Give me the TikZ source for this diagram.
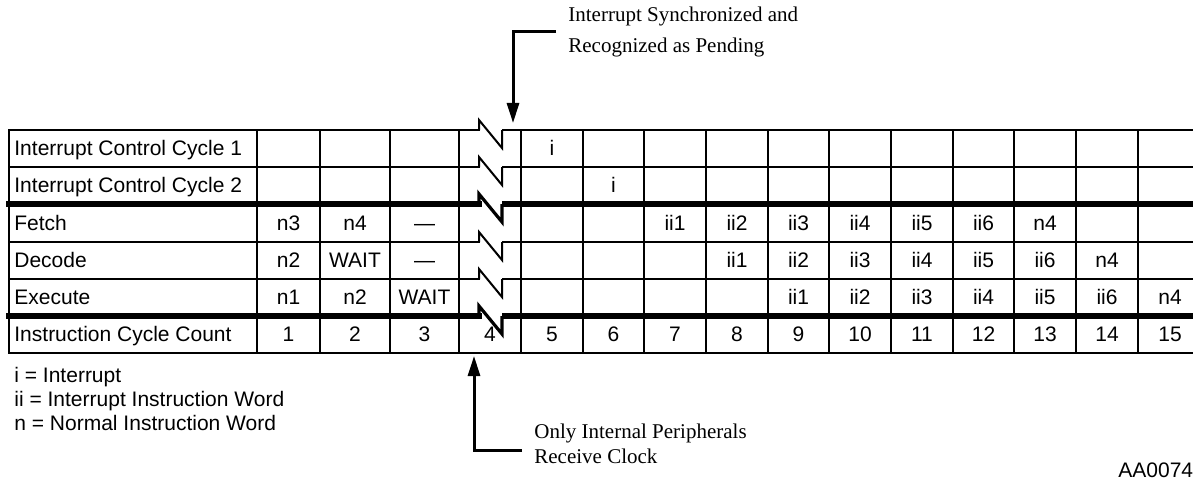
\documentclass[tikz,border=0pt]{standalone}
\usepackage{fontspec}
\setmainfont{Liberation Sans}
\newfontfamily\notefont{Liberation Serif}
\usetikzlibrary{arrows.meta,positioning,calc}

\begin{document}
\begin{tikzpicture}[
  x=0.5pt,y=-0.5pt,
  grid/.style={line width=1.2pt,line cap=rect},
  cell/.style={inner sep=0pt,text height=0.72em,text depth=0pt,font=\fontsize{10.5}{12}\selectfont},
  rowlabel/.style={cell,anchor=west},
  legend/.style={inner sep=0pt,anchor=base west,font=\fontsize{10.5}{12}\selectfont},
  note/.style={inner xsep=6pt,inner ysep=0pt,anchor=west,align=left,font=\notefont\fontsize{10.5}{13.5}\selectfont},
  arr/.style={-{Triangle[length=10pt,width=6pt]},line width=1.5pt}
]
\useasboundingbox (0,0) rectangle (1193,481);

% column centres and row centres
\foreach \x [count=\n] in {288.5,355,424.5,490,552,613.5,675,737,798.5,860,922,983.5,1045,1107,1170}
  \coordinate (c\n) at (\x,0);
\foreach \y [count=\n] in {148.5,185.5,223,260.5,297.5,334.5}
  \coordinate (r\n) at (0,\y);

% rules, broken in column 4
\foreach \y/\w/\z in {130/1.2pt/1pt,167/1.2pt/1pt,204/2.6pt/1.6pt,242/1.2pt/1pt,279/1.2pt/1pt,316/2.6pt/1.6pt} {
  \draw[grid,line width=\w] (9,\y) -- (479,\y);
  \draw[grid,line width=\w,line cap=butt] (502,\y) -- (1193,\y);
  \draw[line width=\z] (479,\y) -- (479,\y-10) -- (502,\y+18) -- (502,\y);
}
\draw[grid] (9,353) -- (1193,353);
\foreach \x in {9,257,320,390,459,521,583,644,706,768,829,891,953,1014,1076,1138}
  \draw[grid] (\x,130) -- (\x,353);

% row labels
\node[rowlabel] (icc1)  at (14,148.5) {Interrupt Control Cycle 1};
\node[rowlabel] (icc2)  at (14,185.5) {Interrupt Control Cycle 2};
\node[rowlabel] (fetch) at (14,223)   {Fetch};
\node[rowlabel] (dec)   at (14,260.5) {Decode};
\node[rowlabel] (exec)  at (14,297.5) {Execute};
\node[rowlabel] (count) at (14,334.5) {Instruction Cycle Count};

% table entries
\node[cell] (icc1-5) at (c5 |- r1) {i};
\node[cell] (icc2-6) at (c6 |- r2) {i};
\foreach \c/\t in {1/n3,2/n4,3/---,7/ii1,8/ii2,9/ii3,10/ii4,11/ii5,12/ii6,13/n4}
  \node[cell] (fetch-\c) at (c\c |- r3) {\t};
\foreach \c/\t in {1/n2,2/WAIT,3/---,8/ii1,9/ii2,10/ii3,11/ii4,12/ii5,13/ii6,14/n4}
  \node[cell] (dec-\c) at (c\c |- r4) {\t};
\foreach \c/\t in {1/n1,2/n2,3/WAIT,9/ii1,10/ii2,11/ii3,12/ii4,13/ii5,14/ii6,15/n4}
  \node[cell] (exec-\c) at (c\c |- r5) {\t};
\foreach \c in {1,...,15}
  \node[cell] (count-\c) at (c\c |- r6) {\c};

% callouts
\node[note,font=\notefont\fontsize{10.5}{15.5}\selectfont] (sync) at (556,32) {Interrupt Synchronized and\\Recognized as Pending};
\coordinate (synctip) at (513,123);
\draw[arr] (sync.west) -| (synctip);

\node[note,font=\notefont\fontsize{10.5}{12.5}\selectfont] (clock) at (522,444) {Only Internal Peripherals\\Receive Clock};
\coordinate (clocktip) at (474,356);
\draw[arr] ([yshift=-3pt]clock.west) -| (clocktip);

% key
\node[legend] (keyi)  at (14,382) {i = Interrupt};
\node[legend] (keyii) at (14,406) {ii = Interrupt Instruction Word};
\node[legend] (keyn)  at (14,430) {n = Normal Instruction Word};
\node[legend] (figid) at (1118,477) {AA0074};
\end{tikzpicture}
\end{document}
